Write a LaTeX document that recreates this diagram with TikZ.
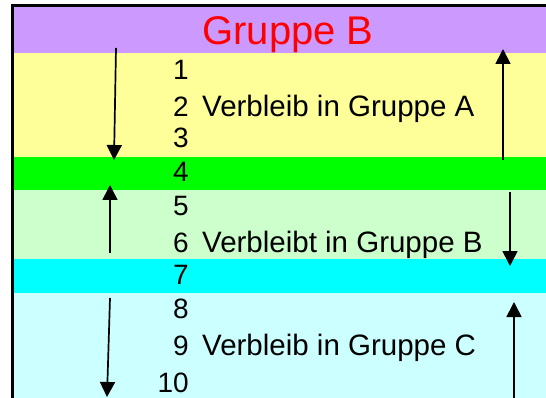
\documentclass[tikz,border=0pt]{standalone}
\usepackage{fontspec}
\setmainfont{Liberation Sans}
\usetikzlibrary{arrows.meta}

\definecolor{titleband}{HTML}{CC99FF}
\definecolor{bandA}{HTML}{FFFF99}
\definecolor{lineAB}{HTML}{00FF00}
\definecolor{bandB}{HTML}{CCFFCC}
\definecolor{lineBC}{HTML}{00FFFF}
\definecolor{bandC}{HTML}{CCFFFF}

\tikzset{
  rank/.style={anchor=base east, inner sep=0pt, font=\fontsize{28}{28}\selectfont},
  stay/.style={anchor=base west, inner sep=0pt, font=\fontsize{29.5}{29.5}\selectfont},
  move/.style={black, line width=1.7pt, -{Triangle[width=15pt,length=15pt]}},
}

\begin{document}
\begin{tikzpicture}[x=1pt,y=-1pt]
\useasboundingbox (0,0) rectangle (546,398);

% bands
\fill[titleband] (11,4) rectangle (546,53);
\fill[bandA] (11,53) rectangle (546,157);
\fill[lineAB] (11,157) rectangle (546,190);
\fill[bandB] (11,190) rectangle (546,259);
\fill[lineBC] (11,259) rectangle (546,293);
\fill[bandC] (11,293) rectangle (546,398);

% frame
\draw[black, line width=3pt] (12.5,398) -- (12.5,5.5) -- (546,5.5);

% texts
\node[anchor=base, inner sep=0pt, text=red, font=\fontsize{40}{40}\selectfont] (title) at (288,45) {Gruppe B};
\foreach \n/\y in {1/80,2/117,3/148,4/182,5/215,6/252,7/284,8/318,9/355,10/392}
  \node[rank] (n\n) at (189,\y) {\n};
\node[stay] (stayA) at (202,117) {Verbleib in Gruppe A};
\node[stay] (stayB) at (202,252) {Verbleibt in Gruppe B};
\node[stay] (stayC) at (202,355) {Verbleib in Gruppe C};

% moves
\coordinate (downA1) at (116,48);  \coordinate (downA2) at (114,160);
\coordinate (upA1) at (503,160);   \coordinate (upA2) at (503,49);
\coordinate (upB1) at (110,253);   \coordinate (upB2) at (110,185);
\coordinate (downB1) at (510,192); \coordinate (downB2) at (510,266);
\coordinate (downC1) at (110,298); \coordinate (downC2) at (107,397);
\coordinate (upC1) at (514,400);   \coordinate (upC2) at (514,302);

\draw[move] (downA1) -- (downA2);
\draw[move] (upA1) -- (upA2);
\draw[move] (upB1) -- (upB2);
\draw[move] (downB1) -- (downB2);
\draw[move] (downC1) -- (downC2);
\draw[move] (upC1) -- (upC2);

\end{tikzpicture}
\end{document}
